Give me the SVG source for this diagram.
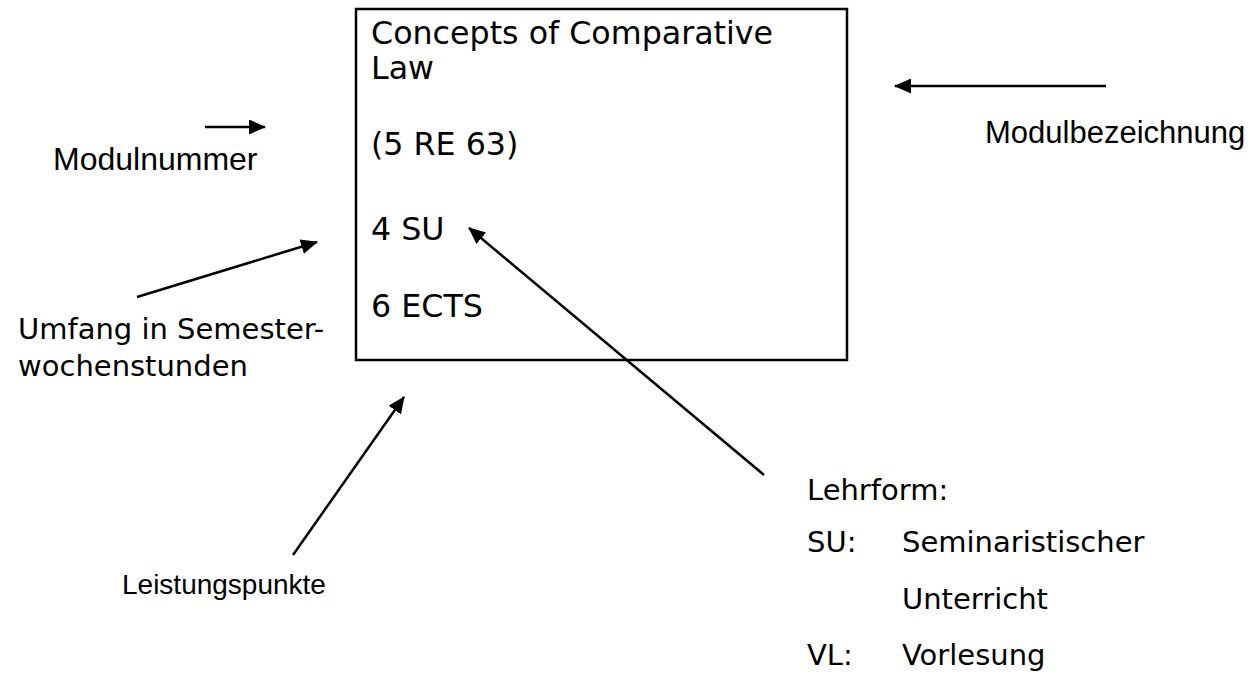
<svg xmlns="http://www.w3.org/2000/svg" width="1258" height="676" viewBox="0 0 1258 676">
<style>
.v{font-family:"DejaVu Sans",Verdana,sans-serif;fill:#000}
.a{font-family:"Liberation Sans",Arial,sans-serif;fill:#000}
.box{font-size:31.7px}
.lbl{font-size:29px}
.conn line{stroke:#000;stroke-width:2.5;fill:none;marker-end:url(#ah)}
</style>
<defs>
<marker id="ah" markerUnits="userSpaceOnUse" viewBox="0 0 17 15" refX="16" refY="7.5" markerWidth="17" markerHeight="15" orient="auto">
<path d="M0,0 L17,7.5 L0,15 Z" fill="#000"/>
</marker>
</defs>
<rect width="1258" height="676" fill="#fff"/>
<g id="module-box">
<rect x="356" y="9" width="491" height="351" fill="#fff" stroke="#000" stroke-width="2.5"/>
<text class="v box" x="371" y="44">Concepts of Comparative</text>
<text class="v box" x="371" y="79">Law</text>
<text class="v box" x="371" y="155">(5 RE 63)</text>
<text class="v box" x="371" y="240">4 SU</text>
<text class="v box" x="371" y="317">6 ECTS</text>
</g>
<g id="label-modulnummer"><text class="a" style="font-size:32px" x="53" y="170">Modulnummer</text></g>
<g id="label-modulbezeichnung"><text class="a" style="font-size:31px" x="985" y="143">Modulbezeichnung</text></g>
<g id="label-umfang">
<text class="v lbl" x="18" y="339">Umfang in Semester-</text>
<text class="v lbl" x="18" y="376">wochenstunden</text>
</g>
<g id="label-leistungspunkte"><text class="a" style="font-size:28px" x="122" y="594">Leistungspunkte</text></g>
<g id="label-lehrform">
<text class="v lbl" x="807" y="500">Lehrform:</text>
<text class="v lbl" x="807" y="552">SU:</text>
<text class="v lbl" x="902" y="552">Seminaristischer</text>
<text class="v lbl" x="902" y="609">Unterricht</text>
<text class="v lbl" x="807" y="665">VL:</text>
<text class="v lbl" x="902" y="665">Vorlesung</text>
</g>
<g id="connectors" class="conn">
<line x1="205" y1="127" x2="265" y2="127"/>
<line x1="1106" y1="86" x2="895" y2="86"/>
<line x1="137" y1="297" x2="317" y2="242"/>
<line x1="293" y1="555" x2="404" y2="397"/>
<line x1="764" y1="475" x2="469" y2="228"/>
</g>
</svg>
